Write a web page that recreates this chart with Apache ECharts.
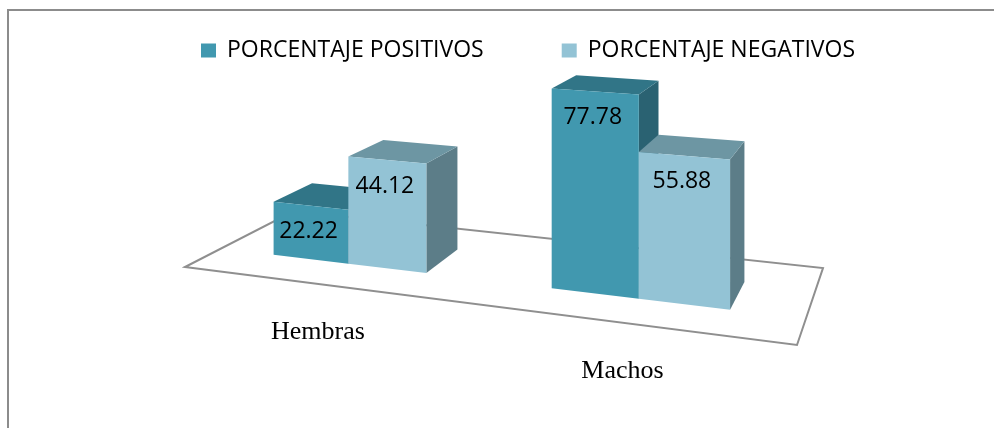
<!DOCTYPE html>
<html>
<head>
<meta charset="utf-8">
<script src="https://cdn.jsdelivr.net/npm/echarts@6/dist/echarts.min.js"></script>
<style>
html,body{margin:0;padding:0;background:#fff;}
#chart{width:994px;height:428px;}
</style>
</head>
<body>
<div id="chart"></div>
<script>
// ---- data ----
const CATEGORIES = ['Hembras', 'Machos'];
const SERIES_NAMES = ['PORCENTAJE POSITIVOS', 'PORCENTAJE NEGATIVOS'];
const POSITIVOS = [22.22, 77.78];
const NEGATIVOS = [44.12, 55.88];
const Y_MAX = 100;

// ---- 3D view (perspective of the floor plane) ----
const VIEW = {
  fl: [185, 267], fr: [797, 345], br: [823, 268], bl: [294, 211],
  K: 2.46, vFront: 0.3, vBack: 0.675, barFrac: 0.284, shift: -0.005
};
const FACE = [
  { front: '#4198AF', top: '#317587', side: '#2A6272' },
  { front: '#93C3D5', top: '#6D96A3', side: '#5C7D88' }
];

function homography(q0, q1, q2, q3) {
  const [x0, y0] = q0, [x1, y1] = q1, [x2, y2] = q2, [x3, y3] = q3;
  const dx1 = x1 - x2, dx2 = x3 - x2, dx3 = x0 - x1 + x2 - x3;
  const dy1 = y1 - y2, dy2 = y3 - y2, dy3 = y0 - y1 + y2 - y3;
  const den = dx1 * dy2 - dx2 * dy1;
  const g = (dx3 * dy2 - dx2 * dy3) / den;
  const h = (dx1 * dy3 - dx3 * dy1) / den;
  return {
    a: x1 - x0 + g * x1, b: x3 - x0 + h * x3, c: x0,
    d: y1 - y0 + g * y1, e: y3 - y0 + h * y3, f: y0, g: g, h: h
  };
}
const H = homography(VIEW.fl, VIEW.fr, VIEW.br, VIEW.bl);
function proj(u, v, val) {
  const w = H.g * u + H.h * v + 1;
  return [(H.a * u + H.b * v + H.c) / w, (H.d * u + H.e * v + H.f) / w - VIEW.K * val / w];
}

function toView(params, api, idx, val) {
  const cs = params.coordSys;
  const p = api.coord([idx, val]);
  const p0 = api.coord([idx, 0]);
  const u = (p[0] - cs.x) / cs.width;
  const band = api.size([1, 0])[0] / cs.width;
  const h = (p0[1] - p[1]) / cs.height * Y_MAX;
  return { u: u, band: band, h: h };
}

function barRenderer(sIdx) {
  return function (params, api) {
    const idx = api.value(0), val = api.value(1);
    const t = toView(params, api, idx, val);
    const bw = t.band * VIEW.barFrac;
    const uc = t.u + VIEW.shift;
    const u0 = sIdx === 0 ? uc - bw : uc;
    const u1 = u0 + bw;
    const vf = VIEW.vFront, vb = VIEW.vBack, h = t.h;
    const c = FACE[sIdx];
    const front = [proj(u0, vf, 0), proj(u1, vf, 0), proj(u1, vf, h), proj(u0, vf, h)];
    const top = [proj(u0, vf, h), proj(u1, vf, h), proj(u1, vb, h), proj(u0, vb, h)];
    const side = [proj(u1, vf, 0), proj(u1, vb, 0), proj(u1, vb, h), proj(u1, vf, h)];
    const lp = proj((u0 + u1) / 2, vf, h);
    return {
      type: 'group',
      children: [
        { type: 'polygon', shape: { points: side }, style: { fill: c.side } },
        { type: 'polygon', shape: { points: top }, style: { fill: c.top } },
        { type: 'polygon', shape: { points: front }, style: { fill: c.front } },
        { type: 'text', z2: 10, style: {
            text: String(val), x: lp[0] - 2, y: lp[1] + 26,
            align: 'center', verticalAlign: 'middle',
            font: '23px "Open Sans"', fill: '#000'
        } }
      ]
    };
  };
}

const chart = echarts.init(document.getElementById('chart'), null, { renderer: 'canvas' });
chart.setOption({
  animation: false,
  backgroundColor: '#fff',
  graphic: [{
    type: 'rect', shape: { x: 8, y: 10, width: 1100, height: 600 },
    style: { fill: 'none', stroke: '#8c8c8c', lineWidth: 2 }, silent: true
  }],
  legend: {
    data: SERIES_NAMES, left: 201, top: 39, padding: 0, icon: 'rect',
    itemWidth: 15, itemHeight: 14, itemGap: 78,
    textStyle: { fontFamily: 'Open Sans', fontSize: 23, color: '#000', padding: [0, 0, 0, 6] }
  },
  grid: { left: 100, right: 100, top: 60, bottom: 60 },
  xAxis: { type: 'category', data: CATEGORIES, show: false },
  yAxis: { type: 'value', min: 0, max: Y_MAX, show: false },
  series: [
    {
      type: 'custom', z: 1, silent: true,
      data: [[0, 0]],
      renderItem: function () {
        return {
          type: 'polygon',
          shape: { points: [proj(0, 0, 0), proj(1, 0, 0), proj(1, 1, 0), proj(0, 1, 0)] },
          style: { fill: '#fff', stroke: '#8f8f8f', lineWidth: 2 }
        };
      }
    },
    {
      type: 'custom', z: 1, silent: true,
      data: CATEGORIES.map((c, i) => [i, 0]),
      renderItem: function (params, api) {
        const idx = api.value(0);
        const t = toView(params, api, idx, 0);
        const p = proj(t.u, 0, 0);
        return { type: 'text', style: {
          text: CATEGORIES[idx], x: p[0] - 2, y: p[1] + 48,
          align: 'center', verticalAlign: 'middle',
          font: '26px "Liberation Serif"', fill: '#000'
        } };
      }
    },
    {
      name: SERIES_NAMES[0], type: 'custom', z: 2,
      itemStyle: { color: FACE[0].front },
      data: POSITIVOS.map((v, i) => [i, v]),
      encode: { x: 0, y: 1 },
      renderItem: barRenderer(0)
    },
    {
      name: SERIES_NAMES[1], type: 'custom', z: 3,
      itemStyle: { color: FACE[1].front },
      data: NEGATIVOS.map((v, i) => [i, v]),
      encode: { x: 0, y: 1 },
      renderItem: barRenderer(1)
    }
  ]
});
</script>
</body>
</html>
